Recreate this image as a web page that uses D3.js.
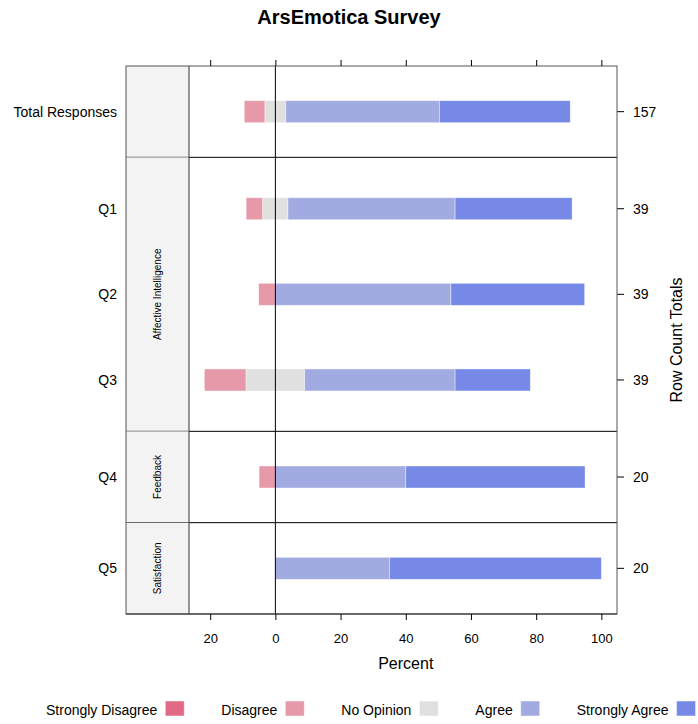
<!DOCTYPE html>
<html>
<head>
<meta charset="utf-8">
<script src="https://d3js.org/d3.v7.min.js"></script>
<style>
  body { margin: 0; background: #fff; }
  svg text { font-family: "Liberation Sans", Arial, Helvetica, sans-serif; }
</style>
</head>
<body>
<svg id="chart" width="698" height="724"></svg>
<script>
// response levels and their colours
var levels = ["Strongly Disagree", "Disagree", "No Opinion", "Agree", "Strongly Agree"];
var levelColors = ["#E16A86", "#E69AA9", "#E0E0E0", "#A1ABE2", "#7689E6"];

// questions, grouped in panels
var questions = ["Q1", "Q2", "Q3", "Q4", "Q5"];
var questionGroup = ["Affective Intelligence", "Affective Intelligence", "Affective Intelligence", "Feedback", "Satisfaction"];
var groups = ["", "Affective Intelligence", "Feedback", "Satisfaction"];

// counts per level, one array per level (Q1..Q5)
var stronglyDisagree = [0, 0, 0, 0, 0];
var disagree         = [2, 2, 5, 1, 0];
var noOpinion        = [3, 0, 7, 0, 0];
var agree            = [20, 21, 18, 8, 7];
var stronglyAgree    = [14, 16, 9, 11, 13];

var xTicks = [-20, 0, 20, 40, 60, 80, 100];

var svg = d3.select('#chart');

// build rows: Total Responses first, then questions
var counts = [stronglyDisagree, disagree, noOpinion, agree, stronglyAgree];
var rows = [];
rows.push({ label: "Total Responses", group: "", vals: counts.map(function(c) { return d3.sum(c); }) });
questions.forEach(function(q, i) {
  rows.push({ label: q, group: questionGroup[i], vals: counts.map(function(c) { return c[i]; }) });
});
rows.forEach(function(r) {
  r.n = d3.sum(r.vals);
  r.pct = r.vals.map(function(v) { return 100 * v / r.n; });
});

var plotL = 189, plotR = 617, plotT = 66, plotB = 614, stripL = 126;
var x = d3.scaleLinear().domain([-26.5, 104.8]).range([plotL, plotR]);

// panel heights proportional to row counts
var rowH = (plotB - plotT) / rows.length;
var panels = groups.map(function(g) {
  return { name: g, rows: rows.filter(function(r) { return r.group === g; }) };
});
var yCursor = plotT;
panels.forEach(function(p) {
  p.y0 = yCursor;
  p.y1 = yCursor + p.rows.length * rowH;
  yCursor = p.y1;
  p.y = d3.scaleLinear().domain([0.4, p.rows.length + 0.6]).range([p.y0, p.y1]);
});

// title
svg.append('text')
  .attr('x', 349).attr('y', 24)
  .attr('text-anchor', 'middle')
  .style('font-size', '20px').style('font-weight', 'bold')
  .text('ArsEmotica Survey');

var barH = 22;

panels.forEach(function(p) {
  var g = svg.append('g');
  // strip
  g.append('rect')
    .attr('x', stripL).attr('y', p.y0)
    .attr('width', plotL - stripL).attr('height', p.y1 - p.y0)
    .attr('fill', '#F3F3F3');
  if (p.name) {
    var cy = (p.y0 + p.y1) / 2;
    g.append('text')
      .attr('transform', 'translate(' + ((stripL + plotL) / 2 + 3.5) + ',' + cy + ') rotate(-90)')
      .attr('text-anchor', 'middle')
      .style('font-size', '10px')
      .text(p.name);
  }

  p.rows.forEach(function(r, i) {
    var yc = p.y(i + 1);
    // neutral split across zero
    var cum = -r.pct[0] - r.pct[1] - r.pct[2] / 2;
    r.pct.forEach(function(v, k) {
      if (v > 0) {
        g.append('rect')
          .attr('x', x(cum)).attr('y', yc - barH / 2)
          .attr('width', x(cum + v) - x(cum)).attr('height', barH)
          .attr('fill', levelColors[k])
          .attr('stroke', '#ffffff').attr('stroke-opacity', 0.5).attr('stroke-width', 0.8);
      }
      cum += v;
    });
    // left label
    g.append('text')
      .attr('x', 117).attr('y', yc + 5)
      .attr('text-anchor', 'end')
      .style('font-size', '14px')
      .text(r.label);
    // right tick and count
    g.append('line')
      .attr('x1', plotR).attr('x2', plotR + 7)
      .attr('y1', yc).attr('y2', yc)
      .attr('stroke', '#000');
    g.append('text')
      .attr('x', 633).attr('y', yc + 5)
      .style('font-size', '14px')
      .text(r.n);
  });

  // zero line
  g.append('line')
    .attr('x1', x(0)).attr('x2', x(0))
    .attr('y1', p.y0).attr('y2', p.y1)
    .attr('stroke', '#000').attr('stroke-width', 1);

  // borders
  g.append('line').attr('x1', stripL).attr('x2', plotR).attr('y1', p.y1).attr('y2', p.y1)
    .attr('stroke', '#000');
  g.append('line').attr('x1', plotL).attr('x2', plotL).attr('y1', p.y0).attr('y2', p.y1)
    .attr('stroke', '#333');
});

// outer frame
svg.append('rect')
  .attr('x', stripL).attr('y', plotT)
  .attr('width', plotR - stripL).attr('height', plotB - plotT)
  .attr('fill', 'none').attr('stroke', '#555');

// axes
var fmt = function(d) { return Math.abs(d); };
svg.append('g')
  .attr('transform', 'translate(0,' + plotB + ')')
  .call(d3.axisBottom(x).tickValues(xTicks).tickFormat(fmt).tickSize(6).tickPadding(14))
  .call(function(a) {
    a.select('.domain').remove();
    a.selectAll('text').style('font-size', '13px').style('font-family', '"Liberation Sans", Arial, sans-serif').attr('fill', '#000');
  });
svg.append('g')
  .attr('transform', 'translate(0,' + plotT + ')')
  .call(d3.axisTop(x).tickValues(xTicks).tickFormat('').tickSize(6))
  .call(function(a) { a.select('.domain').remove(); });

svg.append('text')
  .attr('x', x(40)).attr('y', 669)
  .attr('text-anchor', 'middle')
  .style('font-size', '16px')
  .text('Percent');

svg.append('text')
  .attr('transform', 'translate(682,' + ((plotT + plotB) / 2) + ') rotate(-90)')
  .attr('text-anchor', 'middle')
  .style('font-size', '16px')
  .text('Row Count Totals');

// legend
var lg = svg.append('g');
var cursor = 46;
levels.forEach(function(l, k) {
  var t = lg.append('text')
    .attr('x', cursor).attr('y', 715)
    .style('font-size', '14px')
    .text(l);
  var w = t.node().getComputedTextLength();
  lg.append('rect')
    .attr('x', cursor + w + 8).attr('y', 701)
    .attr('width', 19).attr('height', 15)
    .attr('fill', levelColors[k])
    .attr('stroke', '#fff').attr('stroke-opacity', 0.5);
  cursor += w + 8 + 19 + 37;
});
</script>
</body>
</html>
